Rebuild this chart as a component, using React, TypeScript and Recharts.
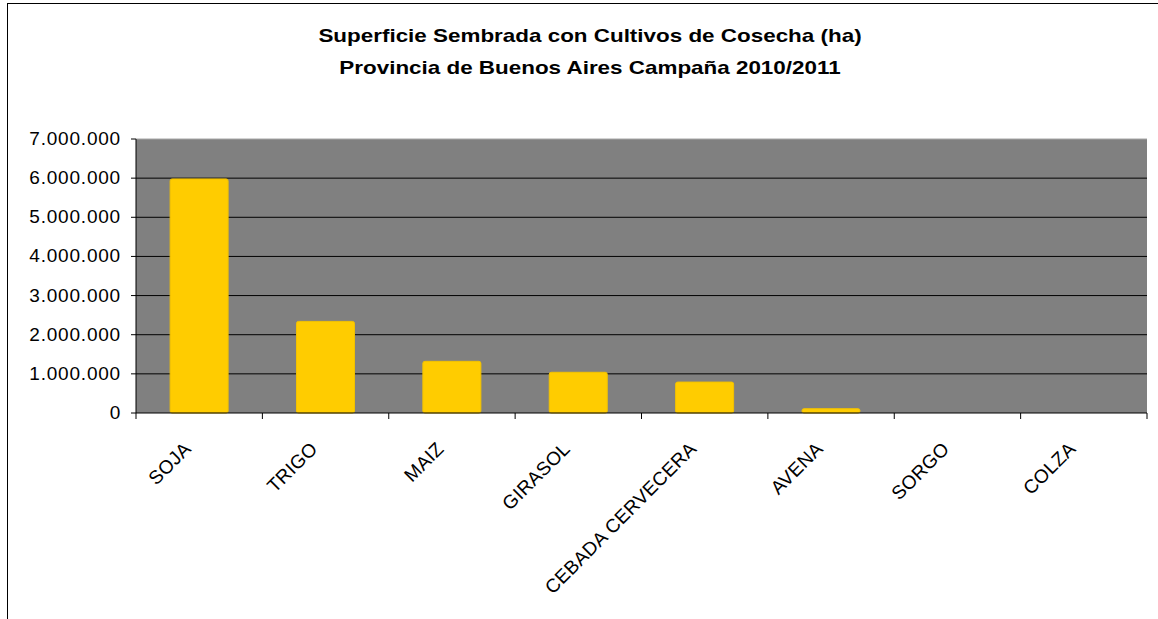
import { Bar, BarChart, CartesianGrid, ReferenceLine, XAxis, YAxis } from "recharts";

const crops = ["SOJA", "TRIGO", "MAIZ", "GIRASOL", "CEBADA CERVECERA", "AVENA", "SORGO", "COLZA"];
const hectares = [5980000, 2340000, 1320000, 1040000, 790000, 110000, 0, 0];
const yTicks = [0, 1000000, 2000000, 3000000, 4000000, 5000000, 6000000, 7000000];
const gridValues = [1000000, 2000000, 3000000, 4000000, 5000000, 6000000];

const W = 1158;
const H = 619;
const MARGIN = { top: 139, right: 11, left: 0, bottom: 0 };
const Y_W = 136;
const X_H = H - 413 - MARGIN.bottom;
const BAND = (W - MARGIN.left - MARGIN.right - Y_W) / crops.length;
const FONT = "'Liberation Sans', Arial, sans-serif";

const data = crops.map((name, i) => ({ name, value: hectares[i] }));

const fmt = (v: number) => v.toLocaleString("de-DE");

// category ticks sit on the band edges, labels rotated under the centre
function CropTick(props: any) {
  const { x, y, payload, index } = props;
  const axisY = y - 8;
  const left = x - BAND / 2;
  const tx = x - 7;
  const ty = y + 29;
  return (
    <g>
      <line x1={left} y1={axisY} x2={left} y2={axisY + 6} stroke="#000" />
      {index === crops.length - 1 && (
        <line x1={x + BAND / 2} y1={axisY} x2={x + BAND / 2} y2={axisY + 6} stroke="#000" />
      )}
      <text
        x={tx}
        y={ty}
        transform={`rotate(-45, ${tx}, ${ty})`}
        textAnchor="end"
        fontFamily={FONT}
        fontSize={19}
        letterSpacing={0.3}
        fill="#000"
      >
        {payload.value}
      </text>
    </g>
  );
}

function ValueTick(props: any) {
  const { x, y, payload } = props;
  return (
    <text x={x + 1} y={y + 6} textAnchor="end" fontFamily={FONT} fontSize={19} fill="#000">
      <tspan style={{ letterSpacing: "0.8px" }}>{fmt(payload.value)}</tspan>
    </text>
  );
}

export default function App() {
  return (
    <div style={{ position: "fixed", left: 0, top: 0, width: W, height: H, overflow: "hidden", background: "#fff" }}>
      <div
        style={{
          position: "absolute",
          left: 7,
          top: 3,
          width: W + 50,
          height: H + 50,
          borderLeft: "1.5px solid #000",
          borderTop: "1.5px solid #000",
        }}
      />
      <div
        style={{
          position: "absolute",
          left: 0,
          top: 20,
          width: 1180,
          textAlign: "center",
          fontFamily: FONT,
          fontWeight: "bold",
          fontSize: 19,
          lineHeight: "32px",
          color: "#000",
          transform: "scaleX(1.18)",
          transformOrigin: "590px 0",
        }}
      >
        Superficie Sembrada con Cultivos de Cosecha (ha)
        <br />
        Provincia de Buenos Aires Campaña 2010/2011
      </div>
      <div style={{ position: "absolute", left: 0, top: 0 }}>
        <BarChart width={W} height={H} data={data} margin={MARGIN} barCategoryGap="27%">
          <CartesianGrid
            vertical={false}
            horizontalValues={gridValues}
            stroke="#000"
            strokeWidth={1}
            fill="#808080"
          />
          <XAxis
            dataKey="name"
            interval={0}
            height={X_H}
            tickLine={false}
            axisLine={{ stroke: "#000" }}
            tick={<CropTick />}
          />
          <YAxis
            width={Y_W}
            domain={[0, 7000000]}
            ticks={yTicks}
            tickSize={5}
            tickMargin={11}
            tickLine={{ stroke: "#000" }}
            axisLine={{ stroke: "#000" }}
            tick={<ValueTick />}
          />
          <YAxis
            yAxisId="edge"
            orientation="right"
            width={0}
            tick={false}
            tickLine={false}
            axisLine={{ stroke: "#a6a6a6" }}
          />
          <ReferenceLine y={7000000} stroke="#a6a6a6" />
          <Bar dataKey="value" fill="#ffcc00" stroke="#f2c200" radius={2} isAnimationActive={false} />
        </BarChart>
      </div>
    </div>
  );
}
